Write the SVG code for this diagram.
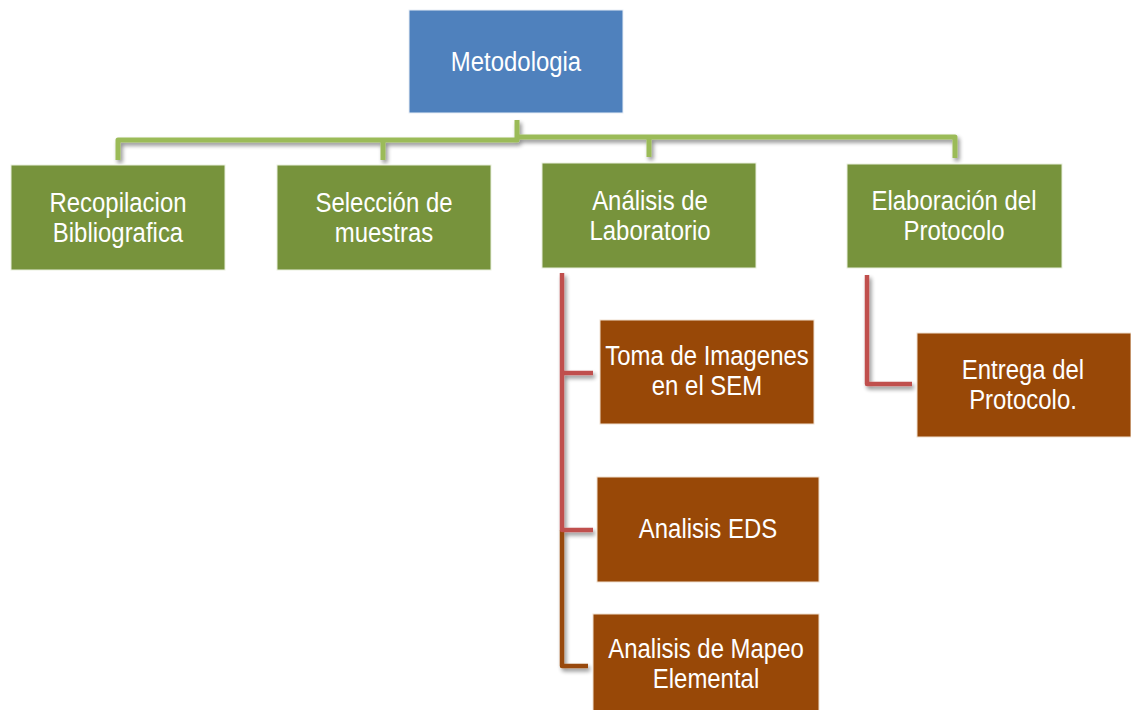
<svg xmlns="http://www.w3.org/2000/svg" width="1131" height="710" viewBox="0 0 1131 710">
<defs>
<filter id="sh" x="-20%" y="-20%" width="140%" height="160%">
<feGaussianBlur in="SourceAlpha" stdDeviation="2"/>
<feOffset dx="2" dy="3" result="b"/>
<feComponentTransfer><feFuncA type="linear" slope="0.45"/></feComponentTransfer>
<feMerge><feMergeNode/><feMergeNode in="SourceGraphic"/></feMerge>
</filter>
<style>
.blue{fill:#4F81BD;stroke:#E8EEF6;stroke-width:1}
.green{fill:#77933C;stroke:#E9EFDD;stroke-width:1}
.brown{fill:#984807;stroke:#F0E0D0;stroke-width:1}
.t{font-family:"Liberation Sans",Arial,sans-serif;font-size:28px;fill:#FFFFFF;text-anchor:middle}
.cg{fill:none;stroke:#9BBB59;stroke-width:5;stroke-linejoin:round}
.cr{fill:none;stroke:#C0504D;stroke-width:4.5;stroke-linejoin:round}
.cb{fill:none;stroke:#984807;stroke-width:4.5;stroke-linejoin:round}
</style>
</defs>
<rect width="1131" height="710" fill="#FFFFFF"/>
<g id="connectors" filter="url(#sh)">
<path class="cg" d="M517,120 V140 H118 V160"/>
<path class="cg" d="M383,140 V160"/>
<path class="cg" d="M517,137 H955 V158"/>
<path class="cg" d="M649,137 V157"/>
<path class="cb" d="M562,530 V666 H588"/>
<path class="cr" d="M562,273 V530 H593"/>
<path class="cr" d="M562,373 H593"/>
<path class="cr" d="M867,275 V384 H912"/>
</g>
<g id="metodologia">
<rect class="blue" x="409" y="10" width="214" height="103"/>
<g transform="translate(516,0) scale(0.855,1)"><text class="t" x="0" y="71">Metodologia</text></g>
</g>
<g id="recopilacion">
<rect class="green" x="11" y="165" width="214" height="105"/>
<g transform="translate(118,0) scale(0.855,1)"><text class="t" x="0" y="212">Recopilacion</text><text class="t" x="0" y="242">Bibliografica</text></g>
</g>
<g id="seleccion">
<rect class="green" x="277" y="165" width="214" height="105"/>
<g transform="translate(384,0) scale(0.855,1)"><text class="t" x="0" y="212">Selección de</text><text class="t" x="0" y="242">muestras</text></g>
</g>
<g id="analisis">
<rect class="green" x="542" y="163" width="214" height="105"/>
<g transform="translate(650,0) scale(0.855,1)"><text class="t" x="0" y="210">Análisis de</text><text class="t" x="0" y="240">Laboratorio</text></g>
</g>
<g id="elaboracion">
<rect class="green" x="847" y="164" width="215" height="104"/>
<g transform="translate(954,0) scale(0.855,1)"><text class="t" x="0" y="210">Elaboración del</text><text class="t" x="0" y="240">Protocolo</text></g>
</g>
<g id="toma">
<rect class="brown" x="600" y="320" width="214" height="104"/>
<g transform="translate(707,0) scale(0.855,1)"><text class="t" x="0" y="365">Toma de Imagenes</text><text class="t" x="0" y="395">en el SEM</text></g>
</g>
<g id="eds">
<rect class="brown" x="597" y="477" width="222" height="105"/>
<g transform="translate(708,0) scale(0.855,1)"><text class="t" x="0" y="538">Analisis EDS</text></g>
</g>
<g id="mapeo">
<rect class="brown" x="593" y="614" width="226" height="106"/>
<g transform="translate(706,0) scale(0.855,1)"><text class="t" x="0" y="658">Analisis de Mapeo</text><text class="t" x="0" y="688">Elemental</text></g>
</g>
<g id="entrega">
<rect class="brown" x="917" y="333" width="214" height="104"/>
<g transform="translate(1023,0) scale(0.855,1)"><text class="t" x="0" y="379">Entrega del</text><text class="t" x="0" y="409">Protocolo.</text></g>
</g>
</svg>
